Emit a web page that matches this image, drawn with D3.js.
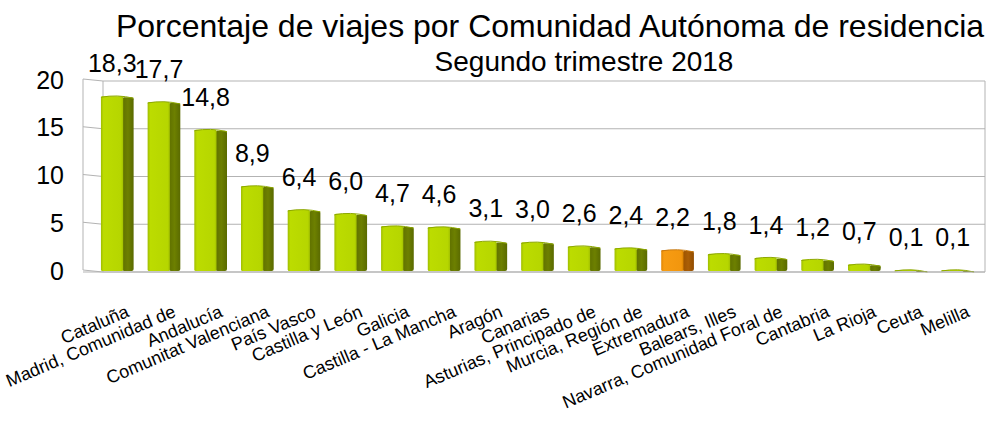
<!DOCTYPE html>
<html>
<head>
<meta charset="utf-8">
<script src="https://cdn.jsdelivr.net/npm/d3@7"></script>
<style>
  body { margin: 0; background: #fff; }
  text { font-family: "Liberation Sans", Arial, sans-serif; }
</style>
</head>
<body>
<div id="chart"></div>
<script>
// data
const categories = ['Cataluña', 'Madrid, Comunidad de', 'Andalucía', 'Comunitat Valenciana',
  'País Vasco', 'Castilla y León', 'Galicia', 'Castilla - La Mancha', 'Aragón', 'Canarias',
  'Asturias, Principado de', 'Murcia, Región de', 'Extremadura', 'Balears, Illes',
  'Navarra, Comunidad Foral de', 'Cantabria', 'La Rioja', 'Ceuta', 'Melilla'];
const values = [18.3, 17.7, 14.8, 8.9, 6.4, 6.0, 4.7, 4.6, 3.1, 3.0, 2.6, 2.4, 2.2, 1.8, 1.4, 1.2, 0.7, 0.1, 0.1];
const highlighted = ['Extremadura'];
const yTicks = [0, 5, 10, 15, 20];

const width = 1004, height = 430;
const wallLeft = 83, plotLeft = 100, plotRight = 985;

const svg = d3.select('#chart').append('svg')
  .attr('width', width)
  .attr('height', height);

const defs = svg.append('defs');
function grad(id, stops) {
  const g = defs.append('linearGradient').attr('id', id)
    .attr('x1', 0).attr('x2', 1).attr('y1', 0).attr('y2', 0);
  stops.forEach(s => g.append('stop').attr('offset', s[0]).attr('stop-color', s[1]));
}
grad('gFront', [[0, '#9fbd00'], [0.12, '#bcdc00'], [0.9, '#b6d600'], [1, '#a2c000']]);
grad('gSide', [[0, '#5f7000'], [0.5, '#6d8000'], [1, '#5a6a00']]);
grad('oFront', [[0, '#e08400'], [0.12, '#f79c12'], [0.9, '#f2960e'], [1, '#d98200']]);
grad('oSide', [[0, '#9a5200'], [0.5, '#ab5f06'], [1, '#914c00']]);

const x = d3.scaleBand().domain(categories).range([plotLeft, plotRight - 10]).paddingInner(0.3).paddingOuter(0.02);
const y = d3.scaleLinear().domain([0, 20]).range([271, 80]);

// walls / grid
const grid = svg.append('g');
grid.selectAll('.gl').data(yTicks).enter().append('line')
  .attr('x1', plotLeft + 3).attr('x2', plotRight)
  .attr('y1', d => y(d) + 1).attr('y2', d => y(d) + 1)
  .attr('stroke', '#b3b3b3').attr('stroke-width', 1);
grid.selectAll('.gs').data(yTicks).enter().append('line')
  .attr('x1', wallLeft).attr('x2', plotLeft + 3)
  .attr('y1', d => y(d) - 1).attr('y2', d => y(d) + 1)
  .attr('stroke', '#b3b3b3').attr('stroke-width', 1);
grid.append('line')
  .attr('x1', wallLeft).attr('x2', wallLeft)
  .attr('y1', y(20) - 1).attr('y2', y(0) - 1)
  .attr('stroke', '#b3b3b3');
grid.append('line')
  .attr('x1', plotLeft + 3).attr('x2', plotLeft + 3)
  .attr('y1', y(20) + 1).attr('y2', y(0) + 1)
  .attr('stroke', '#b3b3b3');
grid.append('line')
  .attr('x1', plotRight).attr('x2', plotRight)
  .attr('y1', y(20) + 1).attr('y2', y(0) + 1)
  .attr('stroke', '#b3b3b3');

// y axis labels
const yAxis = d3.axisLeft(y).tickValues(yTicks).tickSize(0).tickPadding(0);
const yg = svg.append('g').attr('transform', 'translate(64,0)').call(yAxis);
yg.select('.domain').remove();
yg.selectAll('text').attr('font-size', 25).attr('fill', '#000')
  .attr('font-family', '"Liberation Sans", Arial, sans-serif');

// bars
const bw = x.bandwidth();
const frontW = bw * 0.68;
const bars = svg.append('g').selectAll('g').data(categories).enter().append('g');
bars.each(function(c, i) {
  const g = d3.select(this);
  const hi = highlighted.includes(c);
  const x0 = x(c);
  const top = y(values[i]);
  const bottom = y(0);
  g.append('rect')
    .attr('x', x0 + frontW - 1).attr('y', top + 1)
    .attr('width', bw - frontW + 1).attr('height', Math.max(1, bottom - top - 1))
    .attr('rx', 2)
    .attr('fill', hi ? 'url(#oSide)' : 'url(#gSide)');
  g.append('rect')
    .attr('x', x0).attr('y', top)
    .attr('width', frontW).attr('height', Math.max(1, bottom - top))
    .attr('rx', 1.5)
    .attr('fill', hi ? 'url(#oFront)' : 'url(#gFront)');
  g.append('path')
    .attr('d', `M${x0},${top + 1} Q${x0 + bw / 2},${top - 2} ${x0 + bw},${top + 2}`)
    .attr('fill', 'none')
    .attr('stroke', hi ? '#c97a10' : '#8da800').attr('stroke-width', 1);
});

// floor line
svg.append('line')
  .attr('x1', wallLeft).attr('x2', plotRight)
  .attr('y1', y(0) + 1).attr('y2', y(0) + 1)
  .attr('stroke', '#b3b3b3');

// value labels
svg.append('g').selectAll('text').data(categories).enter().append('text')
  .attr('x', c => x(c) + bw / 2 - 5)
  .attr('y', (c, i) => y(values[i]) - 24)
  .attr('text-anchor', 'middle')
  .attr('font-size', 25)
  .text((c, i) => d3.format('.1f')(values[i]).replace('.', ','));

// category labels
svg.append('g').selectAll('text').data(categories).enter().append('text')
  .attr('transform', c => `translate(${x(c) + bw / 2 + 13},${316}) rotate(-23)`)
  .attr('text-anchor', 'end')
  .attr('font-size', 18)
  .text(c => c);

// titles
svg.append('text')
  .attr('x', 550).attr('y', 37)
  .attr('text-anchor', 'middle')
  .attr('font-size', 32)
  .text('Porcentaje de viajes por Comunidad Autónoma de residencia');
svg.append('text')
  .attr('x', 584).attr('y', 71)
  .attr('text-anchor', 'middle')
  .attr('font-size', 28)
  .text('Segundo trimestre 2018');
</script>
</body>
</html>
